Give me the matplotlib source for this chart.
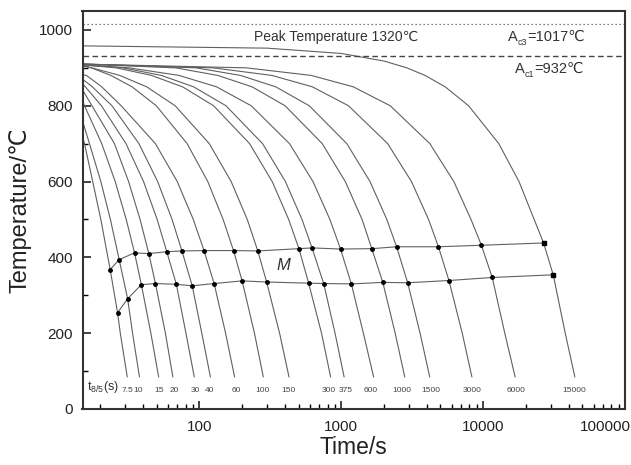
import numpy as np
import matplotlib.pyplot as plt
import matplotlib.transforms as mtransforms
from matplotlib.ticker import MultipleLocator, LogLocator, NullFormatter

plt.rcParams['font.family'] = ['Liberation Sans', 'DejaVu Sans']
plt.rcParams['mathtext.fontset'] = 'custom'
plt.rcParams['mathtext.rm'] = 'Liberation Sans'

nan = np.nan

# t8/5 of each cooling curve
t85 = ['7.5', '10', '15', '20', '30', '40', '60', '100', '150', '300', '375',
       '600', '1000', '1500', '3000', '6000', '15000']
# temperature where each curve enters at the left edge (t = 15 s)
start_T = [720, 760, 812, 842, 858, 870, 882, 907, 905, 908, 908, 908, 910, 910, 910, 910, 958]
levels = [900, 880, 850, 800, 700, 600, 500, 200, 85]
level_t = [
    [nan, nan, nan, nan, 15.5, 17.7, 20.2, 27.7, 31.0],
    [nan, nan, nan, nan, 16.8, 20.2, 23.6, 33.8, 37.8],
    [nan, nan, nan, 15.5, 20.5, 25.5, 30.5, 45.5, 51.6],
    [nan, nan, nan, 17.5, 25.2, 31.7, 38.2, 57.6, 65.0],
    [nan, nan, 15.7, 20.4, 30.4, 40.4, 50.4, 80.4, 92.0],
    [nan, nan, 17.6, 24.2, 37.5, 50.8, 64.2, 104, 119.5],
    [nan, 16.0, 20.5, 28.1, 49, 69.8, 90.6, 153, 177],
    [17.3, 23.8, 33.5, 49.7, 82, 114.6, 147, 244.5, 282],
    [17.5, 27.5, 42.5, 67.5, 117.5, 167.5, 217.5, 367.5, 428],
    [26, 46, 76, 126, 226, 326, 426, 726, 841],
    [29, 54, 91, 154, 279, 404, 529, 904, 1047],
    [32, 72, 132, 232, 432, 632, 832, 1432, 1690],
    [68, 135, 235, 402, 735, 1068, 1402, 2400, 2800],
    [95, 195, 345, 595, 1095, 1595, 2095, 3595, 4200],
    [125, 325, 625, 1125, 2125, 3125, 4125, 7125, 8330],
    [215, 615, 1215, 2215, 4215, 6215, 8215, 14215, 16800],
    [2900, 3900, 5400, 7900, 12900, 17900, 22900, 37900, 44300],
]
# extra points on the flat top of the slowest cycle
peak_t = [300, 1000, 2000]
peak_T = [952, 938, 918]

# martensite start / finish points on each curve
ms_t = [23.5, 27.2, 34.9, 44, 58.9, 75.3, 107.8, 174, 258, 503, 622, 988, 1641, 2455, 4842, 9726, 26670]
ms_T = [368, 394, 412, 410, 415, 417, 418, 418, 417, 423, 425, 422, 423, 428, 428, 432, 438]
mf_t = [26.5, 31.2, 39, 49, 68.8, 89, 127, 200, 298, 589, 752, 1178, 1963, 2939, 5741, 11590, 31200]
mf_T = [254, 291, 328, 331, 329, 325, 331, 338, 335, 332, 331, 330, 334, 333, 339, 347, 354]

# where the t8/5 labels sit along the time axis
label_t = [31, 37, 52, 66, 93, 118, 181, 280, 423, 811, 1066, 1600, 2680, 4300, 8300, 17000, 44000]

fig = plt.figure(figsize=(6.31, 4.65), dpi=100)
ax = fig.add_axes([82.5/631, 1-409/465, 542.5/631, 398/465])

for i in range(len(t85)):
    tt = [15.0, ms_t[i], mf_t[i]]
    TT = [start_T[i], ms_T[i], mf_T[i]]
    for lv, tv in zip(levels, level_t[i]):
        if not np.isnan(tv) and tv > 15:
            tt.append(tv)
            TT.append(lv)
    if i == len(t85) - 1:
        tt += peak_t
        TT += peak_T
    order = np.argsort(tt)
    ax.plot(np.array(tt)[order], np.array(TT)[order], color='#606060', lw=0.8)

ax.plot(ms_t, ms_T, color='#606060', lw=0.8, marker='o', ms=2.5, mfc='k', mec='k')
ax.plot(mf_t, mf_T, color='#606060', lw=0.8, marker='o', ms=2.5, mfc='k', mec='k')
ax.plot(ms_t[-1:], ms_T[-1:], 'ks', ms=3.2)
ax.plot(mf_t[-1:], mf_T[-1:], 'ks', ms=3.2)

ax.axhline(1017, color='#555555', lw=0.9, ls=(0, (1, 2.2)))
ax.axhline(932, color='#444444', lw=1.0, ls=(0, (4, 2.5)))

for lt, lab in zip(label_t, t85):
    ax.text(lt, 50, lab, fontsize=6, color='#444444', ha='center', va='center')
ax.text(0.008, 0.055, r't$_{\mathrm{8/5}}$(s)', transform=ax.transAxes, fontsize=9,
        color='#333333', ha='left', va='center')

ax.text(390, 379, 'M', fontsize=12, style='italic', color='#333333', ha='center', va='center')
ax.text(0.316, 0.935, 'Peak Temperature 1320\u2103', transform=ax.transAxes,
        fontsize=10, color='#333333', ha='left', va='center')


def a_label(x, y, sub, rest):
    ta = ax.text(x, y, 'A', transform=ax.transAxes, fontsize=10.5, color='#333333',
                 ha='left', va='center')
    ts = ax.annotate(sub, xy=(1.0, 0.12), xycoords=ta, fontsize=6.5, color='#333333',
                     ha='left', va='center')
    ax.annotate(rest, xy=(1.0, 0.5), xycoords=(ts, ta), fontsize=10.5, color='#333333',
                ha='left', va='center')


a_label(0.784, 0.935, 'c3', '=1017\u2103')
a_label(0.797, 0.855, 'c1', '=932\u2103')

ax.set_xscale('log')
ax.set_xlim(15, 100000)
ax.set_ylim(0, 1050)
ax.set_xticks([100, 1000, 10000, 100000])
ax.set_xticklabels(['100', '1000', '10000', '100000'])
ax.xaxis.set_minor_locator(LogLocator(base=10, subs=np.arange(2, 10)))
ax.xaxis.set_minor_formatter(NullFormatter())
ax.set_yticks([0, 200, 400, 600, 800, 1000])
ax.yaxis.set_minor_locator(MultipleLocator(100))
ax.tick_params(which='major', direction='in', length=6, width=1.2, labelsize=11, colors='#222222')
ax.tick_params(which='minor', direction='in', length=3.5, width=1.0)
ax.tick_params(axis='y', pad=7)
ax.tick_params(axis='x', pad=8)
for sp in ax.spines.values():
    sp.set_linewidth(1.5)
    sp.set_color('#333333')

lbl = ax.get_xticklabels()[-1]
lbl.set_transform(lbl.get_transform() + mtransforms.ScaledTranslation(-0.2, 0, fig.dpi_scale_trans))

ax.set_xlabel('Time/s', fontsize=16.5, color='#222222', labelpad=1)
ax.set_ylabel('Temperature/\u2103', fontsize=17, color='#222222', labelpad=5)

fig.savefig('out.png', dpi=100)
